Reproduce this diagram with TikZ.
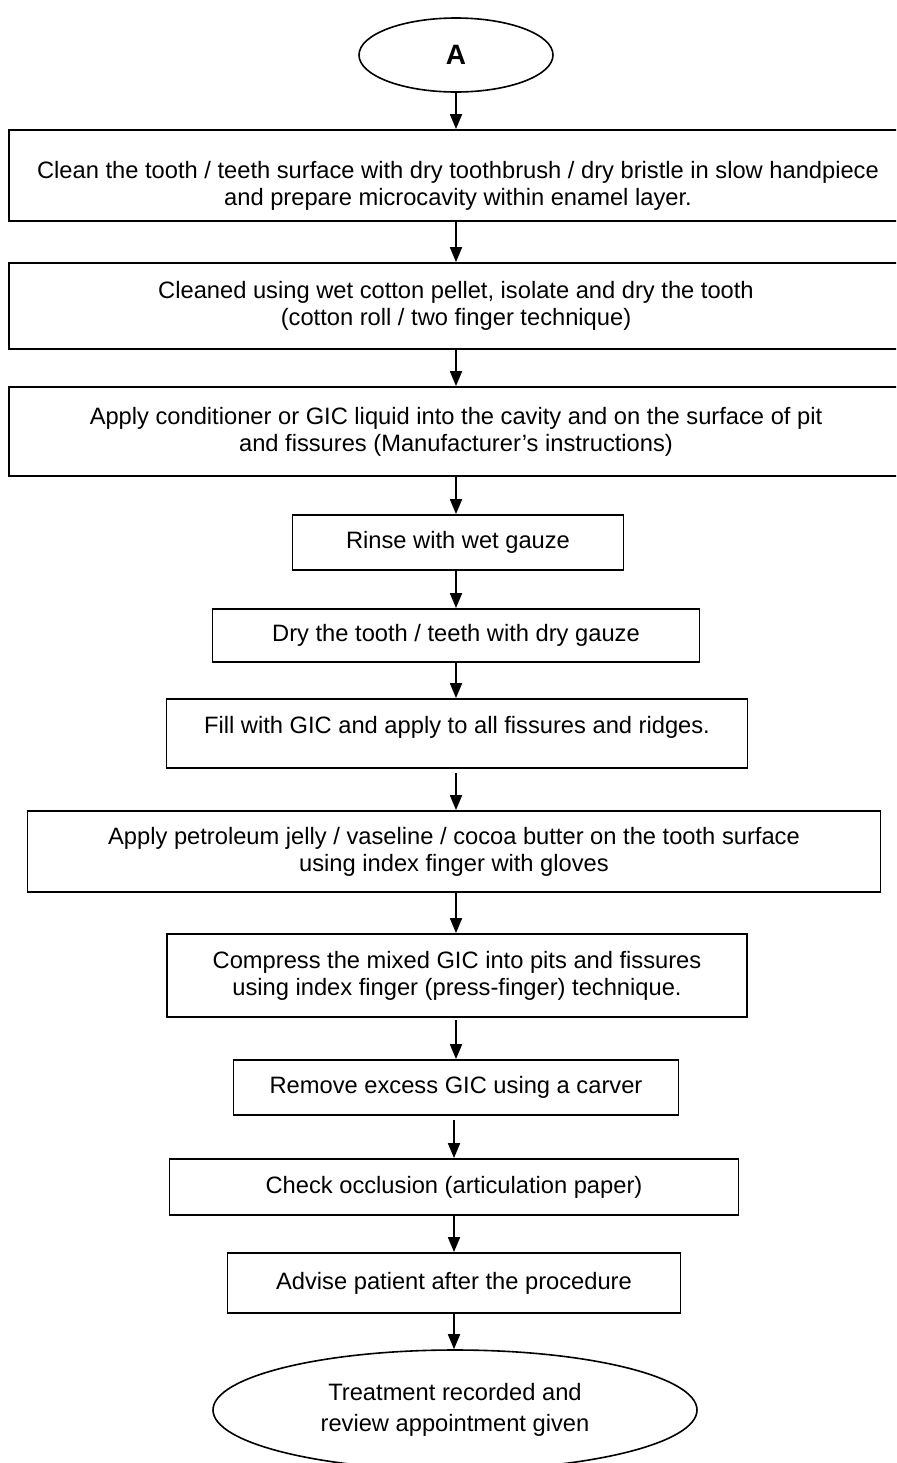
\documentclass[tikz,border=0pt]{standalone}
\usepackage{fontspec}
\setmainfont{Liberation Sans}
\usetikzlibrary{arrows.meta,shapes.geometric}

\newcommand{\stepfont}{\fontsize{11.85pt}{13.5pt}\selectfont}

\tikzset{
  box/.style={draw, line width=0.9pt, inner sep=0pt, align=center, font=\stepfont},
  txt/.style={inner sep=0pt, align=center, font=\stepfont},
  oval/.style={draw, ellipse, line width=0.8pt, inner sep=0pt, align=center, font=\stepfont},
  arr/.style={-{Triangle[length=7.5pt,width=6pt]}, line width=0.9pt},
}

\begin{document}
\begin{tikzpicture}[x=0.5pt,y=-0.5pt]
\useasboundingbox (0,0) rectangle (896,1463);
\clip (0,0) rectangle (896,1463);

% start connector
\node[oval, minimum width=97pt, minimum height=37pt, font=\fontsize{14pt}{16pt}\bfseries] (eA) at (456,55) {A};

% wide steps
\node[box, minimum width=447pt, minimum height=45.5pt] (b1) at (456,175.5) {};
\node[txt] (t1) at (458,186) {Clean the tooth / teeth surface with dry toothbrush / dry bristle in slow handpiece\\and prepare microcavity within enamel layer.};

\node[box, minimum width=447pt, minimum height=43pt] (b2) at (456,306)
  {Cleaned using wet cotton pellet, isolate and dry the tooth\\(cotton roll / two finger technique)};

\node[box, minimum width=447pt, minimum height=44.5pt] (b3) at (456,431.5)
  {Apply conditioner or GIC liquid into the cavity and on the surface of pit\\and fissures (Manufacturer’s instructions)};

% narrower steps
\node[box, minimum width=165.5pt, minimum height=27.5pt] (b4) at (458,542.5) {Rinse with wet gauze};
\node[box, minimum width=243.5pt, minimum height=26.5pt] (b5) at (456,635.5) {Dry the tooth / teeth with dry gauze};

\node[box, minimum width=290.5pt, minimum height=34.5pt] (b6) at (457,733.5) {};
\node[txt] (t6) at (457,727) {Fill with GIC and apply to all fissures and ridges.};

\node[box, minimum width=426.5pt, minimum height=40.5pt] (b7) at (454,851.5)
  {Apply petroleum jelly / vaseline / cocoa butter on the tooth surface\\using index finger with gloves};

\node[box, minimum width=290pt, minimum height=41.5pt] (b8) at (457,975.5)
  {Compress the mixed GIC into pits and fissures\\using index finger (press-finger) technique.};

\node[box, minimum width=222.5pt, minimum height=27.5pt] (b9) at (456,1087.5) {Remove excess GIC using a carver};
\node[box, minimum width=284.5pt, minimum height=28pt] (b10) at (454,1187) {Check occlusion (articulation paper)};
\node[box, minimum width=226.5pt, minimum height=30pt] (b11) at (454,1283) {Advise patient after the procedure};

% end
\node[oval, minimum width=242pt, minimum height=60pt] (eEnd) at (455,1410)
  {Treatment recorded and\\[2pt]review appointment given};

% connectors
\draw[arr] (eA.south) -- (eA.south |- b1.north);
\draw[arr] (b1.south) -- (b1.south |- b2.north);
\draw[arr] (b2.south) -- (b2.south |- b3.north);
\draw[arr] (b3.south) -- (b3.south |- b4.north);
\draw[arr] (b4.south -| b3.south) -- (b3.south |- b5.north);
\draw[arr] (b5.south -| b3.south) -- (b3.south |- b6.north);
\draw[arr, shorten <=2pt] (b6.south -| b3.south) -- (b3.south |- b7.north);
\draw[arr] (b7.south -| b3.south) -- (b3.south |- b8.north);
\draw[arr, shorten <=1pt] (b8.south -| b9.north) -- (b9.north);
\draw[arr, shorten <=2pt] (b9.south -| b10.north) -- (b10.north);
\draw[arr] (b10.south) -- (b10.south |- b11.north);
\draw[arr] (b11.south) -- (b11.south |- eEnd.north);
\end{tikzpicture}
\end{document}
